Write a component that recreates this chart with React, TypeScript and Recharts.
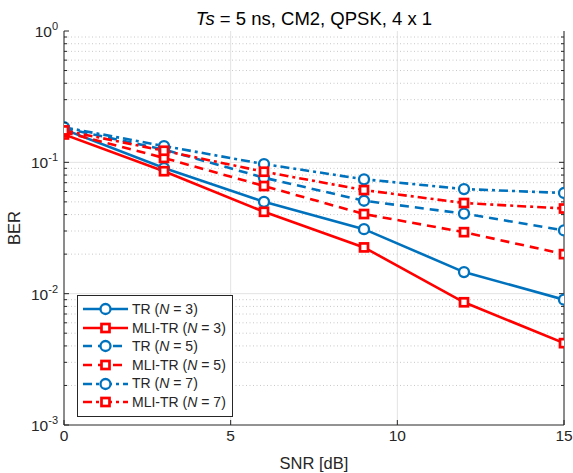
import React from "react";
import { LineChart, Line, XAxis, YAxis, CartesianGrid, ReferenceLine, Legend } from "recharts";

// SNR points (dB)
const snr = [0, 3, 6, 9, 12, 15];

// BER
const trN3 = [0.178, 0.0905, 0.05, 0.031, 0.0146, 0.009];
const mliN3 = [0.163, 0.0856, 0.042, 0.0225, 0.0086, 0.0042];
const trN5 = [0.182, 0.125, 0.0763, 0.051, 0.0407, 0.0303];
const mliN5 = [0.17, 0.108, 0.066, 0.0404, 0.0294, 0.02];
const trN7 = [0.185, 0.133, 0.097, 0.0743, 0.0626, 0.0584];
const mliN7 = [0.175, 0.1225, 0.0848, 0.0615, 0.049, 0.0445];

const xTicks = [0, 5, 10, 15];
const decades = [0.001, 0.01, 0.1, 1];
const minorSteps = [2, 3, 4, 5, 6, 7, 8, 9];
const minorTicks = decades.slice(0, 3).flatMap((d) => minorSteps.map((m) => +(d * m).toPrecision(3)));
const yTicks = [...decades, ...minorTicks].sort((a, b) => a - b);

const BLUE = "#0072BD";
const RED = "#FF0000";
const AXIS = "#262626";
const FONT = "'Liberation Sans', Arial, Helvetica, sans-serif";

type Series = { key: string; label: string; n: number; color: string; dash?: string; marker: "circle" | "square" };

const SERIES: Series[] = [
  { key: "trN3", label: "TR", n: 3, color: BLUE, marker: "circle" },
  { key: "mliN3", label: "MLI-TR", n: 3, color: RED, marker: "square" },
  { key: "trN5", label: "TR", n: 5, color: BLUE, dash: "9 6", marker: "circle" },
  { key: "mliN5", label: "MLI-TR", n: 5, color: RED, dash: "9 6", marker: "square" },
  { key: "trN7", label: "TR", n: 7, color: BLUE, dash: "9 4 3 4", marker: "circle" },
  { key: "mliN7", label: "MLI-TR", n: 7, color: RED, dash: "9 4 3 4", marker: "square" },
];

const data = snr.map((s, i) => ({
  snr: s,
  trN3: trN3[i],
  mliN3: mliN3[i],
  trN5: trN5[i],
  mliN5: mliN5[i],
  trN7: trN7[i],
  mliN7: mliN7[i],
}));

function Marker({ cx, cy, color, kind }: { cx: number; cy: number; color: string; kind: string }) {
  if (kind === "circle") {
    return <circle cx={cx} cy={cy} r={5} fill="#fff" stroke={color} strokeWidth={2.3} />;
  }
  return <rect x={cx - 4} y={cy - 4} width={8} height={8} fill="#fff" stroke={color} strokeWidth={2.7} />;
}

const isMajor = (v: number) => decades.includes(v);

function LeftTick({ x, y, payload }: any) {
  const v = payload.value;
  const major = isMajor(v);
  const exp = Math.round(Math.log10(v));
  return (
    <g>
      <line x1={x} x2={x + (major ? 5 : 3)} y1={y} y2={y} stroke={AXIS} />
      {major && (
        <text x={x - 6} y={y + 6} textAnchor="end" fill={AXIS} fontSize={15.5} fontFamily={FONT}>
          <tspan>10</tspan>
          <tspan dy={-7} fontSize={11}>{exp}</tspan>
        </text>
      )}
    </g>
  );
}

function BottomTick({ x, y, payload }: any) {
  return (
    <g>
      <line x1={x} x2={x} y1={y} y2={y - 5} stroke={AXIS} />
      <text x={x} y={y + 16} textAnchor="middle" fill={AXIS} fontSize={15.5} fontFamily={FONT}>
        {payload.value}
      </text>
    </g>
  );
}

function TopTick({ x, y }: any) {
  return <line x1={x} x2={x} y1={y} y2={y + 5} stroke={AXIS} />;
}

// grid line across the plot plus a short inward tick on the right frame
const gridWithTick = (len: number, dash?: string, color = "#c8c8c8") => (p: any) => (
  <g>
    <line x1={p.x1} x2={p.x2} y1={p.y1} y2={p.y2} stroke={color} strokeDasharray={dash} />
    <line x1={Math.max(p.x1, p.x2) - len} x2={Math.max(p.x1, p.x2)} y1={p.y1} y2={p.y2} stroke={AXIS} />
  </g>
);

function LegendBox() {
  return (
    <div
      style={{
        border: `1px solid ${AXIS}`,
        background: "#fff",
        padding: "4px 6px 4px 5px",
        fontFamily: FONT,
        fontSize: 14,
        color: AXIS,
        lineHeight: "18.6px",
        whiteSpace: "nowrap",
        width: "fit-content",
      }}
    >
      {SERIES.map((s) => (
        <div key={s.key} style={{ display: "flex", alignItems: "center", height: 18.6 }}>
          <svg width={45} height={14} style={{ marginRight: 4, flex: "none" }}>
            <line x1={0} x2={45} y1={7} y2={7} stroke={s.color} strokeWidth={2.5} strokeDasharray={s.dash} />
            <Marker cx={22.5} cy={7} color={s.color} kind={s.marker} />
          </svg>
          <span>
            {s.label} (<i>N</i> = {s.n})
          </span>
        </div>
      ))}
    </div>
  );
}

export default function App() {
  return (
    <div style={{ position: "absolute", left: 0, top: 0, width: 573, height: 473, background: "#fff", fontFamily: FONT }}>
      <div
        style={{
          position: "absolute",
          left: 64,
          width: 500,
          top: 8,
          textAlign: "center",
          fontSize: 18.5,
          lineHeight: "22px",
          color: "#000",
        }}
      >
        <i>Ts</i> = 5 ns, CM2, QPSK, 4 x 1
      </div>
      <div
        style={{
          position: "absolute",
          left: 14,
          top: 228,
          transform: "translate(-50%, -50%) rotate(-90deg)",
          fontSize: 16.5,
          color: AXIS,
          whiteSpace: "nowrap",
        }}
      >
        BER
      </div>
      <div
        style={{
          position: "absolute",
          left: 314,
          top: 463,
          transform: "translate(-50%, -50%)",
          fontSize: 16.5,
          color: AXIS,
          whiteSpace: "nowrap",
        }}
      >
        SNR [dB]
      </div>
      <LineChart width={573} height={473} data={data} margin={{ top: 31, right: 9, bottom: 0, left: 0 }}>
        <CartesianGrid horizontal={false} stroke="#e3e3e3" strokeWidth={1} />
        {minorTicks.map((v) => (
          <ReferenceLine key={"m" + v} y={v} ifOverflow="hidden" shape={gridWithTick(3, "1 2.5")} />
        ))}
        {decades.slice(1, 3).map((v) => (
          <ReferenceLine key={"d" + v} y={v} shape={gridWithTick(5, undefined, "#e3e3e3")} />
        ))}
        <ReferenceLine x={15} stroke={AXIS} />
        <XAxis
          dataKey="snr"
          type="number"
          domain={[0, 15]}
          allowDataOverflow
          ticks={xTicks}
          interval={0}
          height={48}
          tickSize={0}
          tickMargin={0}
          tickLine={false}
          tick={<BottomTick />}
          axisLine={{ stroke: AXIS }}
        />
        <XAxis
          xAxisId="top"
          orientation="top"
          type="number"
          domain={[0, 15]}
          allowDataOverflow
          ticks={xTicks}
          interval={0}
          height={0}
          tickSize={0}
          tickMargin={0}
          tickLine={false}
          tick={<TopTick />}
          axisLine={{ stroke: AXIS }}
        />
        <YAxis
          scale="log"
          type="number"
          domain={[0.001, 1]}
          allowDataOverflow
          ticks={yTicks}
          interval={0}
          width={64}
          tickSize={0}
          tickMargin={0}
          tickLine={false}
          tick={<LeftTick />}
          axisLine={{ stroke: AXIS }}
        />
        {SERIES.map((s) => (
          <Line
            key={s.key}
            dataKey={s.key}
            type="linear"
            stroke={s.color}
            strokeWidth={2.6}
            strokeDasharray={s.dash}
            isAnimationActive={false}
            activeDot={false}
            dot={(p: any) => <Marker key={s.key + p.index} cx={p.cx} cy={p.cy} color={s.color} kind={s.marker} />}
          />
        ))}
        <Legend
          layout="vertical"
          align="center"
          verticalAlign="middle"
          content={() => <LegendBox />}
          wrapperStyle={{ left: 77, top: 295, width: "auto", right: "auto", bottom: "auto" }}
        />
      </LineChart>
    </div>
  );
}
